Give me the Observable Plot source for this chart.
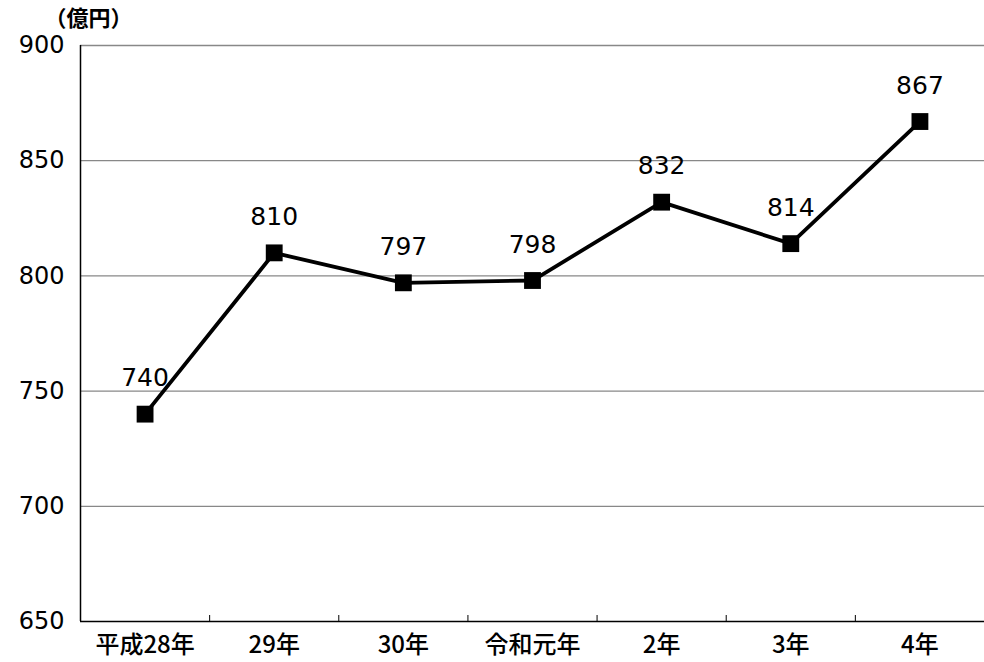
<!DOCTYPE html>
<html><head><meta charset="utf-8">
<script src="https://cdn.jsdelivr.net/npm/d3@7"></script>
<script src="https://cdn.jsdelivr.net/npm/@observablehq/plot@0.6"></script>
<style>
html,body{margin:0;padding:0;background:#fff;}
</style>
</head><body>
<div id="chart"></div>
<script>
const categories = ["平成28年", "29年", "30年", "令和元年", "2年", "3年", "4年"];
const values = [740, 810, 797, 798, 832, 814, 867];
const yTicks = [650, 700, 750, 800, 850, 900];
const unitLabel = "（億円）";

const data = categories.map((c, i) => ({i, cat: c, v: values[i]}));
const boundaries = d3.range(categories.length - 1).map(i => i + 0.5);

const chart = Plot.plot({
  width: 984,
  height: 662,
  marginLeft: 80,
  marginRight: 0,
  marginTop: 45,
  marginBottom: 41,
  style: {fontFamily: "'DejaVu Sans', sans-serif", background: "#fff"},
  x: {type: "linear", domain: [-0.5, categories.length - 0.5]},
  y: {domain: [650, 900]},
  marks: [
    Plot.ruleY(yTicks.filter(t => t > 650), {stroke: "#888", strokeWidth: 1.3}),
    Plot.ruleX(boundaries, {y1: 650, y2: 652.6, stroke: "#000", strokeWidth: 1}),
    Plot.ruleX([-0.5], {stroke: "#000", strokeWidth: 1.5}),
    Plot.ruleY([650], {stroke: "#000", strokeWidth: 1.5}),
    Plot.axisY({ticks: yTicks, tickSize: 0, tickPadding: 16, fontSize: 24, label: null, fill: "#000"}),
    Plot.axisX({ticks: d3.range(categories.length), tickSize: 0, tickPadding: 14, fontSize: 24,
      tickFormat: i => categories[i], label: null, fontFamily: "'Noto Sans CJK JP', sans-serif", fontWeight: 500}),
    Plot.line(data, {x: "i", y: "v", stroke: "#000", strokeWidth: 3.8}),
    Plot.dot(data, {x: "i", y: "v", symbol: "square", r: 9.5, fill: "#000", stroke: "none"}),
    Plot.text(data, {x: "i", y: "v", text: d => String(d.v), dy: -36, fontSize: 25, fill: "#000", lineAnchor: "middle"}),
    Plot.text([unitLabel], {frameAnchor: "top-left", dx: 8, dy: -27, textAnchor: "middle", lineAnchor: "middle",
      fontSize: 22, fontWeight: "bold", fontFamily: "'Noto Sans CJK JP', sans-serif", fill: "#000"})
  ]
});
document.getElementById("chart").appendChild(chart);
</script>
</body></html>
